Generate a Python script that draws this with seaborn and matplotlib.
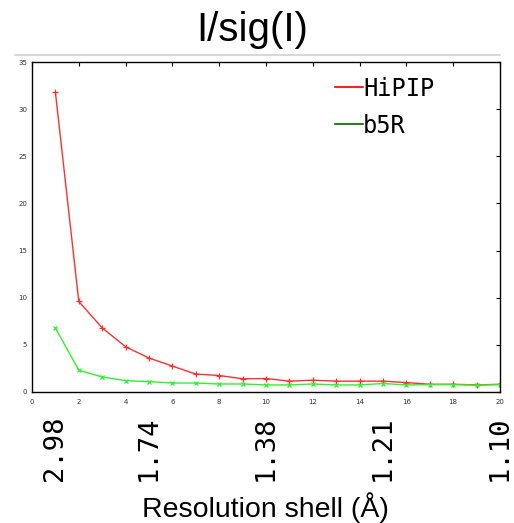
import matplotlib
matplotlib.use("Agg")
import matplotlib.pyplot as plt
import seaborn as sns
import pandas as pd
from matplotlib.lines import Line2D

shells = list(range(1, 21))
hipip = [31.8, 9.6, 6.8, 4.8, 3.6, 2.75, 1.9, 1.75, 1.4, 1.43, 1.15, 1.25, 1.15, 1.15, 1.15, 1.0, 0.82, 0.82, 0.75, 0.82]
b5r = [6.8, 2.3, 1.6, 1.2, 1.1, 0.95, 0.95, 0.85, 0.85, 0.75, 0.75, 0.85, 0.75, 0.75, 0.9, 0.75, 0.78, 0.78, 0.72, 0.78]
res_pos = [1, 5, 10, 15, 20]
res_labels = ["2.98", "1.74", "1.38", "1.21", "1.10"]
series_names = ["HiPIP", "b5R"]

sns.set_style("white")
plt.rcParams['font.family'] = ['DejaVu Sans']
plt.rcParams['text.color'] = 'black'

fig = plt.figure(figsize=(5.14, 5.23), dpi=100)
ax = fig.add_axes([32/514, 1-392/523, 468/514, 330/523])

df_h = pd.DataFrame({"x": shells, "y": hipip})
df_b = pd.DataFrame({"x": shells, "y": b5r})
sns.lineplot(data=df_h, x="x", y="y", ax=ax, color="#ff3030", lw=1.0,
             marker="+", markersize=4, markeredgewidth=0.9, markeredgecolor="#ff3030")
sns.lineplot(data=df_b, x="x", y="y", ax=ax, color="#33ee33", lw=1.0,
             marker="x", markersize=3, markeredgewidth=0.9, markeredgecolor="#33ee33")

ax.set_xlim(0, 20)
ax.set_ylim(0, 35)
ax.set_xticks(range(0, 21, 2))
ax.set_yticks(range(0, 36, 5))
ax.tick_params(axis="both", which="both", direction="in", length=3, width=0.8,
               labelsize=5, colors="black", labelcolor="#333333",
               top=True, right=True)
ax.tick_params(axis="x", pad=5)
for s in ax.spines.values():
    s.set_color("black")
    s.set_linewidth(1.0)
ax.set_xlabel("")
ax.set_ylabel("")

# legend
handles = [Line2D([0], [0], color="#ff2020", lw=1.5),
           Line2D([0], [0], color="#2e7d1e", lw=1.5)]
leg = ax.legend(handles, series_names, loc="upper right", bbox_to_anchor=(0.905, 1.02),
                frameon=False, handlelength=1.2, handletextpad=0.0, labelspacing=0.55,
                labelcolor="black",
                prop={"family": "DejaVu Sans Mono", "size": 17})

# resolution labels (rotated)
for p, lab in zip(res_pos, res_labels):
    ax.text(p, -0.07, lab, transform=ax.get_xaxis_transform(), rotation=90,
            ha="center", va="top", fontsize=19.5, family="DejaVu Sans Mono", color="black")

fig.text(252/514, 1-30/523, "I/sig(I)", ha="center", va="center", fontsize=29,
         family="Liberation Sans", color="black")
fig.text(265/514, 1-508/523, "Resolution shell (Å)", ha="center", va="center",
         fontsize=20.5, family="Liberation Sans", color="black")
fig.add_artist(Line2D([15/514, 500/514], [1-55/523, 1-55/523], color="#d8d8d8", lw=1.5))

fig.savefig("out.png", dpi=100)
